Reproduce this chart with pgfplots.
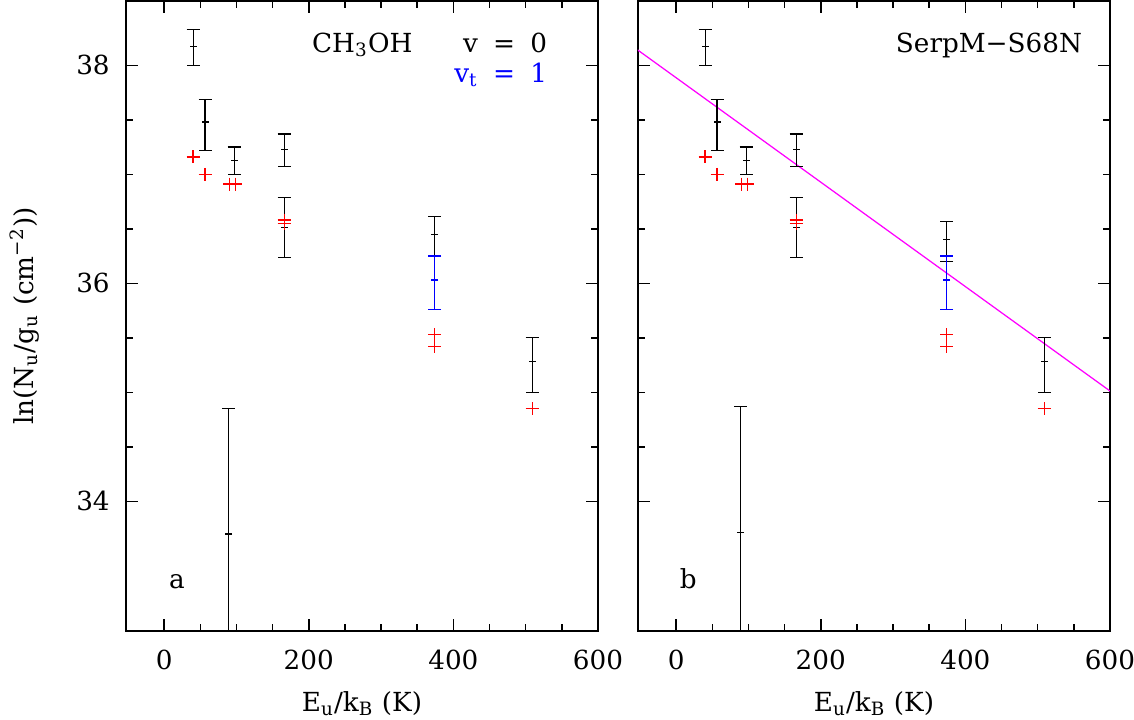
\documentclass[border=0pt]{standalone}
\usepackage{fontspec}
\setmainfont{DejaVu Serif}
\usepackage{pgfplots}
\usepackage{pgfplotstable}
\pgfplotsset{compat=1.18}
\definecolor{fitline}{RGB}{255,0,255}

\newcommand{\sub}[1]{\textsubscript{#1}}
\newcommand{\fs}{\fontsize{10.5}{12}\selectfont}

% columns: E_u/k_B, ln(N_u/g_u), error up, error down
\pgfplotstableread{
x y ep em
40 38.17 0.16 0.17
56.5 37.48 0.21 0.265
96.8 37.13 0.12 0.13
166 37.23 0.14 0.16
166 36.51 0.275 0.27
374 36.45 0.16 0.20
509 35.28 0.22 0.28
89 33.70 1.15 2.0
}\blackA

\pgfplotstableread{
x y ep em
40 38.17 0.16 0.17
56.5 37.48 0.21 0.265
96.8 37.13 0.12 0.13
166 37.23 0.14 0.16
166 36.51 0.275 0.27
374 36.40 0.17 0.20
509 35.28 0.22 0.28
89 33.71 1.16 2.0
}\blackB

\pgfplotstableread{
x y ep em
374 36.03 0.22 0.27
}\blueT

\pgfplotstableread{
x y
40 37.16
56.5 37.00
90.7 36.91
98.6 36.91
166 36.58
166 36.55
374 35.53
374 35.42
509 34.85
}\redM

\pgfplotsset{
  panel/.style={
    scale only axis, width=188.8pt, height=252pt,
    xmin=-52.8, xmax=600, ymin=32.81, ymax=38.59,
    xtick={0,200,400,600}, ytick={34,36,38},
    minor x tick num=3, minor y tick num=3,
    tick align=inside, major tick length=4.8pt, minor tick length=2.8pt,
    axis line style={line width=0.7pt},
    tick style={black, line width=0.6pt},
    /pgf/number format/assume math mode=true,
    tick label style={font=\fs},
    label style={font=\fs},
    xticklabel style={yshift=-4pt},
    yticklabel style={xshift=-3pt},
    xlabel={E\sub{u}/k\sub{B} (K)},
    xlabel style={yshift=-2pt},
  },
  ebar/.style={only marks, mark=-, mark size=1.4pt, line width=0.45pt, #1,
    error bars/.cd, y dir=both, y explicit,
    error mark options={rotate=90, #1, mark size=2.6pt, line width=0.45pt},
    error bar style={#1, line width=0.45pt}},
  redp/.style={only marks, mark=+, mark size=2.6pt, red, line width=0.55pt},
}

\begin{document}
\begin{tikzpicture}
\begin{axis}[panel, at={(0,0)}, anchor=south west,
  ylabel={ln(N\sub{u}/g\sub{u} (cm\textsuperscript{−2}))},
  ylabel style={at={(axis description cs:-0.214,0.5)}, anchor=center}]
\addplot[ebar=black] table[x=x, y=y, y error plus=ep, y error minus=em]{\blackA};
\addplot[ebar=blue] table[x=x, y=y, y error plus=ep, y error minus=em]{\blueT};
\addplot[redp] table[x=x, y=y]{\redM};
\node[font=\fs, anchor=base] at (axis cs:274,38.117) {CH\sub{3}OH};
\node[font=\fs, anchor=base east] at (axis cs:541.7,38.114) {v\hspace{0.58em}=\hspace{0.58em}0};
\node[font=\fs, anchor=base east, text=blue] at (axis cs:541.7,37.84) {v\sub{t}\hspace{0.58em}=\hspace{0.58em}1};
\node[font=\fs, anchor=base] at (axis cs:17.6,33.2) {a};
\end{axis}

\begin{axis}[panel, at={(204.8pt,0)}, anchor=south west, yticklabels={}]
\addplot[fitline, line width=0.5pt] coordinates {(-60,38.173) (610,34.964)};
\addplot[ebar=black] table[x=x, y=y, y error plus=ep, y error minus=em]{\blackB};
\addplot[ebar=blue] table[x=x, y=y, y error plus=ep, y error minus=em]{\blueT};
\addplot[redp] table[x=x, y=y]{\redM};
\node[font=\fs, anchor=base east] at (axis cs:573.6,38.114) {SerpM−S68N};
\node[font=\fs, anchor=base] at (axis cs:16.7,33.2) {b};
\end{axis}
\pgfresetboundingbox
\path[use as bounding box] (-50.4pt,-35.2pt) rectangle (403.2pt,252.4pt);
\end{tikzpicture}
\end{document}
